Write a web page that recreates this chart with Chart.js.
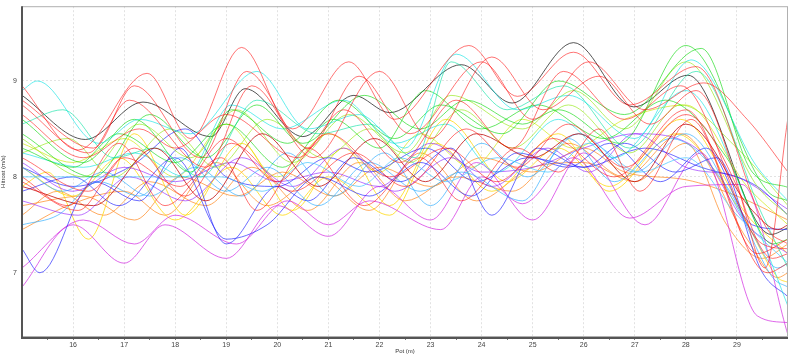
<!DOCTYPE html>
<html>
<head>
<meta charset="utf-8">
<script src="https://cdn.jsdelivr.net/npm/chart.js@4.4.1/dist/chart.umd.min.js"></script>
<style>
html,body{margin:0;padding:0;background:#fff;}
#wrap{width:800px;height:355px;position:relative;}
</style>
</head>
<body>
<div id="wrap"><canvas id="c" width="800" height="355"></canvas></div>
<script>
// ---- axis tick labels ----
const xTickLabels = [16,17,18,19,20,21,22,23,24,25,26,27,28,29];
const yTickLabels = [7,8,9];

// ---- series: [pot (m), hitrost (m/s)] key points ----
const red1 = [[15,8.95],[16.1,8.28],[17.45,9.08],[18.3,8.4],[19.3,9.35],[20.3,8.5],[21.4,9.2],[22.3,8.6],[23.75,9.37],[24.7,8.84],[25.8,9.3],[26.9,8.75],[28.2,9.15],[29.6,7.45],[30,7.3]];
const red2 = [[15,8.8],[16.4,8.3],[17.2,8.95],[18.5,8.2],[19.4,9.1],[20.6,8.3],[21.6,9.05],[22.6,8.45],[24.0,9.2],[25.0,8.6],[26.1,9.2],[27.2,8.7],[28.35,8.98],[29.2,8.6],[30,8.05]];
const red3 = [[15,8.75],[16.3,8.25],[17.1,8.8],[18.6,8.1],[19.5,8.95],[20.7,8.2],[22.0,9.1],[23.0,8.4],[24.2,9.25],[25.2,8.7],[26.3,9.05],[27.3,8.55],[28.2,8.9],[29.7,7.15],[30,7.2]];
const red4 = [[15,8.65],[16.2,8.2],[17.3,8.5],[18.0,8.3],[19.0,8.65],[20.4,8.2],[21.3,8.7],[22.4,8.15],[23.5,8.8],[24.6,8.3],[25.6,9.1],[26.8,8.6],[27.9,8.95],[29.5,7.3],[30,7.25]];
const red5 = [[15,8.2],[16.3,7.85],[17.2,8.3],[18.2,7.8],[19.1,8.35],[20.3,7.85],[21.5,8.25],[22.5,7.9],[23.7,8.5],[24.7,8.1],[25.7,8.55],[26.8,8.1],[28.0,8.65],[29.0,7.9],[29.55,7.05],[30,8.62]];
const red6 = [[15,7.95],[16.1,7.65],[17.0,8.2],[18.1,7.9],[19.0,8.4],[20.0,7.95],[21.0,8.45],[22.2,8.0],[23.3,8.3],[24.3,7.95],[25.4,8.4],[26.6,8.0],[28.0,8.7],[29.6,7.0],[30,7.1]];
const red7 = [[15,8.0],[15.9,7.7],[16.9,8.35],[17.8,7.7],[18.9,8.2],[19.6,7.65],[20.6,8.3],[21.7,7.7],[22.8,8.2],[23.6,7.75],[24.7,8.3],[25.5,8.05],[26.3,8.5],[27.1,7.85],[28.1,8.6],[29.4,7.2],[30,7.35]];
const darkRed = [[15,7.9],[16.4,7.7],[17.6,8.3],[18.6,7.75],[19.7,8.45],[20.8,7.9],[21.9,8.4],[22.9,7.95],[23.9,8.45],[25.0,8.2],[25.9,8.45],[27.0,7.95],[28.0,8.55],[29.3,7.65],[29.8,7.45],[30,7.5]];
const black = [[15,8.85],[16.24,8.39],[17.37,8.78],[18.7,8.42],[19.37,8.92],[20.5,8.42],[21.5,8.85],[22.2,8.67],[23.6,9.17],[24.6,8.77],[25.8,9.4],[26.98,8.73],[28.04,9.06],[29.67,7.4],[30,7.47]];
const cyan1 = [[15,8.9],[15.3,9.0],[16.5,8.35],[17.3,8.6],[18.3,8.45],[19.6,9.1],[20.6,8.5],[21.6,8.65],[22.5,8.3],[23.5,9.28],[24.7,8.7],[25.7,8.85],[27.0,8.4],[28.1,9.22],[29.4,8.1],[30,7.75]];
const aqua = [[15,8.55],[15.8,8.7],[16.8,8.2],[17.6,8.3],[18.5,8.0],[19.6,8.8],[20.8,8.45],[21.8,8.55],[22.7,8.2],[23.4,9.2],[24.5,8.7],[25.6,8.95],[26.9,8.3],[28.2,9.1],[29.5,7.6],[30,7.05]];
const green1 = [[15,8.6],[16.2,8.15],[17.2,8.6],[18.3,8.05],[19.1,8.7],[20.2,8.35],[21.2,8.8],[22.3,8.4],[23.2,8.75],[24.4,8.45],[25.5,9.0],[26.8,8.65],[28.3,9.34],[29.3,8.05],[30,7.89]];
const green2 = [[15,8.45],[16.4,8.0],[17.5,8.65],[18.6,8.2],[19.6,8.75],[20.5,8.35],[21.7,8.85],[22.8,8.5],[23.7,8.8],[24.8,8.55],[25.5,8.7],[26.7,8.35],[28.0,9.37],[29.6,7.85],[30,7.75]];
const green3 = [[15,8.3],[16.0,8.1],[16.9,8.45],[18.0,8.15],[19.0,8.55],[20.1,8.1],[21.1,8.6],[22.0,8.3],[22.9,8.9],[24.0,8.5],[25.1,8.75],[26.4,8.4],[27.6,8.8],[28.8,8.2],[29.7,7.3],[30,7.35]];
const lime1 = [[15,8.4],[16.2,8.0],[17.3,8.55],[18.3,8.2],[19.2,8.7],[20.3,8.15],[21.4,8.65],[22.5,8.25],[23.4,8.85],[24.8,8.5],[25.8,8.9],[26.8,8.5],[28.0,9.2],[29.4,7.9],[30,7.6]];
const lime2 = [[15,8.25],[15.9,8.4],[16.8,8.0],[17.9,8.5],[18.8,8.1],[19.8,8.6],[20.9,8.2],[21.8,8.5],[22.6,8.15],[23.6,8.7],[24.6,8.3],[25.7,8.75],[26.9,8.25],[27.9,8.75],[29.0,8.3],[30,7.7]];
const cyan2 = [[15,8.25],[16.2,8.1],[17.2,8.25],[18.2,8.0],[19.1,8.75],[20.1,8.5],[21.3,8.8],[22.3,8.35],[23.3,8.55],[24.3,8.05],[25.5,8.6],[26.6,8.2],[28.0,8.9],[29.3,7.6],[30,6.65]];
const skyFlat = [[15,8.0],[18.9,8.0],[19.7,7.85],[20.6,8.15],[21.6,7.9],[22.4,8.2],[23.3,7.95],[24.3,8.2],[25.3,8.05],[26.1,8.35],[27.1,8.05],[28.0,8.2],[29.0,7.6],[30,7.1]];
const sky1 = [[15,7.5],[15.7,7.6],[16.5,7.95],[17.3,7.8],[18.1,8.2],[19.0,7.85],[19.8,8.1],[20.8,7.7],[21.8,8.15],[22.8,7.85],[23.6,8.05],[24.8,7.75],[25.7,8.4],[26.6,7.95],[27.7,8.4],[28.8,7.9],[29.7,6.95],[30,6.85]];
const sky2 = [[15,8.1],[15.8,7.85],[16.6,8.05],[17.5,7.8],[18.4,8.1],[19.3,7.8],[20.2,8.25],[21.1,7.8],[22.1,8.25],[23.0,7.7],[24.0,8.35],[24.9,8.0],[25.9,8.45],[27.0,8.05],[28.0,8.45],[29.2,7.5],[29.8,7.05],[30,7.1]];
const blue1 = [[15,8.1],[16.0,7.9],[17.1,8.1],[18.2,8.5],[19.0,8.0],[20.0,7.9],[21.0,8.2],[21.8,8.05],[22.9,8.3],[23.9,7.95],[24.9,8.2],[26.0,8.1],[27.2,8.3],[28.3,8.1],[29.4,7.9],[30,7.6]];
const blue2 = [[15,7.25],[15.35,7.0],[16.4,7.95],[17.3,7.75],[18.1,8.3],[19.0,7.3],[20.0,7.9],[20.6,7.75],[21.5,8.2],[22.4,7.95],[23.4,8.3],[24.2,7.6],[25.1,8.3],[26.0,8.1],[26.8,8.35],[27.8,8.05],[28.6,8.2],[29.5,7.0],[30,6.75]];
const blue3 = [[15,7.85],[16.0,8.0],[16.9,7.7],[18.0,8.2],[19.0,7.35],[19.8,7.5],[20.8,8.0],[21.8,7.8],[22.8,8.15],[23.8,7.8],[24.7,8.25],[25.7,8.1],[26.5,8.35],[27.5,7.95],[28.4,8.3],[29.3,7.5],[30,7.45]];
const violet1 = [[15,8.15],[16.0,7.85],[17.0,8.1],[18.0,7.95],[19.1,8.15],[20.0,7.95],[21.0,8.05],[22.0,7.9],[23.0,8.35],[24.0,8.05],[25.0,8.1],[26.0,8.3],[27.0,8.45],[28.0,8.1],[29.0,8.0],[30,7.66]];
const violet2 = [[15,7.75],[16.1,7.6],[17.1,8.0],[18.2,7.75],[19.3,8.2],[20.3,7.9],[21.3,8.3],[22.3,7.85],[23.4,8.2],[24.2,7.9],[25.3,8.3],[26.1,8.05],[27.0,8.45],[28.2,8.3],[29.2,7.5],[30,7.2]];
const magenta1 = [[15,6.85],[16.0,7.5],[17.0,7.1],[17.8,7.5],[19.0,7.15],[20.0,7.7],[21.0,7.38],[22.0,7.9],[23.0,7.55],[23.9,8.15],[25.0,7.55],[26.0,8.25],[27.2,7.5],[28.3,8.25],[29.4,6.55],[30,6.48]];
const magenta2 = [[15,7.05],[16.2,7.55],[17.2,7.3],[18.0,7.6],[19.2,7.3],[20.2,7.75],[21.0,7.5],[21.8,7.75],[23.2,7.45],[24.0,8.0],[24.8,7.72],[25.8,8.2],[26.9,7.57],[28.0,7.9],[29.1,7.92],[30,6.35]];
const yellow1 = [[15,7.9],[15.5,8.05],[16.3,7.35],[17.2,8.45],[18.2,7.6],[19.3,8.35],[20.3,7.65],[21.3,8.3],[22.2,7.7],[23.3,8.6],[24.5,7.95],[25.5,8.3],[26.5,7.9],[27.9,8.6],[29.2,7.6],[30,7.2]];
const yellow2 = [[15,8.1],[16.0,7.8],[16.9,8.2],[18.0,7.55],[19.1,8.1],[20.1,7.6],[21.0,8.0],[22.2,7.6],[23.1,8.35],[24.2,7.85],[25.5,8.45],[26.5,7.85],[27.8,8.45],[29.0,7.7],[29.8,6.95],[30,6.9]];
const yellowLime = [[15,8.35],[16.0,8.15],[17.0,8.4],[18.0,8.0],[19.0,8.55],[20.0,8.0],[21.0,8.45],[22.0,8.05],[22.8,8.45],[23.8,8.1],[24.8,8.6],[25.8,8.3],[26.8,8.6],[28.0,8.75],[29.2,7.9],[30,7.5]];
const orange1 = [[15,7.6],[15.7,7.85],[16.6,7.6],[17.5,7.95],[18.6,7.7],[19.5,8.1],[20.6,7.65],[21.6,8.15],[22.5,7.75],[23.5,8.0],[24.6,7.85],[25.7,8.35],[26.8,8.0],[27.9,8.45],[29.2,7.35],[29.8,6.95],[30,7.0]];
const orange2 = [[15,7.45],[15.9,7.7],[17.0,7.85],[17.8,7.6],[18.8,8.15],[19.8,7.7],[20.8,8.0],[21.8,7.65],[22.8,8.25],[23.9,7.75],[25.0,8.1],[26.0,8.15],[27.0,7.95],[28.0,8.35],[28.8,7.5],[29.5,7.15],[30,7.3]];
const orange3 = [[15,7.7],[16.2,7.8],[17.2,7.55],[18.1,8.0],[19.2,7.8],[20.1,8.05],[21.1,7.8],[22.0,8.1],[23.0,7.9],[24.0,8.2],[25.0,8.05],[26.0,8.3],[26.8,8.05],[28.0,7.97],[29.0,7.8],[30,7.55]];

// ---- styles (kept apart from the data) ----
const C = {
  red:'rgba(255,0,0,0.55)', darkRed:'rgba(190,0,0,0.75)', black:'rgba(30,30,30,0.75)',
  cyan:'rgba(0,225,225,0.6)', aqua:'rgba(0,225,160,0.6)', green:'rgba(0,215,0,0.6)',
  lime:'rgba(140,230,0,0.6)', sky:'rgba(40,170,255,0.65)', blue:'rgba(30,30,255,0.65)',
  violet:'rgba(150,40,255,0.65)', magenta:'rgba(210,40,225,0.7)', yellow:'rgba(255,215,0,0.75)',
  ylime:'rgba(205,230,0,0.65)', orange:'rgba(255,135,30,0.7)'
};
const seriesList = [
  [red1,C.red],[red2,C.red],[red3,C.red],[red4,C.red],[red5,C.red],[red6,C.red],[red7,C.red],[darkRed,C.darkRed],
  [cyan1,C.cyan],[aqua,C.aqua],[green1,C.green],[green2,C.green],[green3,C.green],[lime1,C.lime],[lime2,C.lime],
  [cyan2,C.cyan],[skyFlat,'rgba(80,200,255,0.75)'],[sky1,C.sky],[sky2,C.sky],[blue1,C.blue],[blue2,C.blue],[blue3,C.blue],
  [violet1,C.violet],[violet2,C.violet],[magenta1,C.magenta],[magenta2,C.magenta],
  [yellow1,C.yellow],[yellow2,C.yellow],[yellowLime,C.ylime],[orange1,C.orange],[orange2,C.orange],[orange3,C.orange],
  [black,C.black]
];

const datasets = seriesList.map(([pts,col],i)=>({
  label:'s'+i,
  data: pts.map(p=>({x:p[0],y:p[1]})),
  borderColor:col, borderWidth:1, pointRadius:0, fill:false,
  cubicInterpolationMode:'monotone'
}));

const frame = {
  id:'frame',
  afterDraw(chart){
    const {ctx, chartArea:a} = chart;
    ctx.save();
    ctx.strokeStyle='#b0b0b0'; ctx.lineWidth=1;
    ctx.strokeRect(a.left+0.5,a.top+0.5,a.right-a.left-1,a.bottom-a.top-1);
    ctx.strokeStyle='#555'; ctx.lineWidth=2;
    ctx.beginPath(); ctx.moveTo(a.left,a.top); ctx.lineTo(a.left,a.bottom+1); ctx.lineTo(a.right,a.bottom+1); ctx.stroke();
    ctx.restore();
  }
};

const tickFont = {family:'"Liberation Sans", Arial, sans-serif', size:7};
new Chart(document.getElementById('c'),{
  type:'line',
  data:{datasets},
  plugins:[frame],
  options:{
    responsive:false, animation:false, events:[],
    layout:{padding:{top:6,right:12,left:0,bottom:0}},
    plugins:{legend:{display:false},tooltip:{enabled:false}},
    scales:{
      x:{
        type:'linear', min:15, max:30,
        afterBuildTicks(s){ const t=[]; for(let v=15.5; v<30; v+=0.5) t.push({value:v}); s.ticks=t; },
        afterFit(s){ s.height=18; },
        ticks:{autoSkip:false, maxRotation:0, padding:1, color:'#444', font:tickFont,
          callback:(v)=> (Number.isInteger(v) && xTickLabels.includes(v)) ? String(v) : ''},
        grid:{drawOnChartArea:true, tickLength:3,
          color:(c)=> (c.tick && Number.isInteger(c.tick.value)) ? '#e2e2e2' : 'rgba(0,0,0,0)',
          tickColor:'#777', tickBorderDash:[], drawTicks:true},
        border:{display:false, dash:[2,2]},
        title:{display:true, text:'Pot (m)', color:'#333', font:{family:'"Liberation Sans", Arial, sans-serif', size:6}, padding:{top:0,bottom:0}}
      },
      y:{
        type:'linear', min:6.33, max:9.78,
        afterBuildTicks(s){ s.ticks = yTickLabels.map(v=>({value:v})); },
        afterFit(s){ s.width=22; },
        ticks:{padding:2, color:'#444', font:tickFont},
        grid:{color:'#e2e2e2', tickLength:3, tickColor:'rgba(0,0,0,0)'},
        border:{display:false, dash:[2,2]},
        title:{display:true, text:'Hitrost (m/s)', color:'#333', font:{family:'"Liberation Sans", Arial, sans-serif', size:6}, padding:{top:0,bottom:0}}
      }
    }
  }
});
</script>
</body>
</html>
